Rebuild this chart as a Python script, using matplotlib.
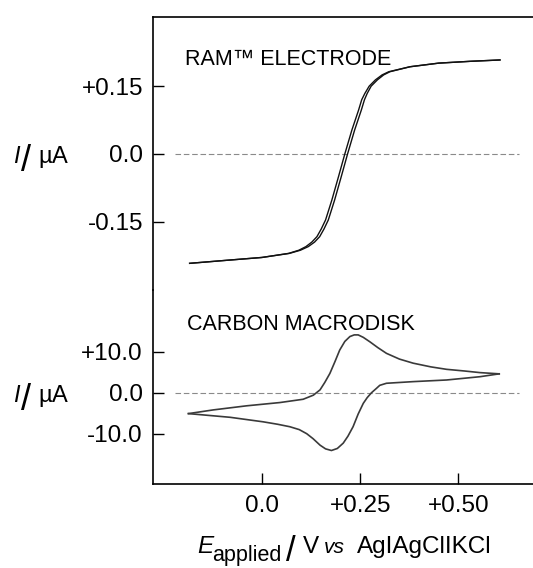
import matplotlib
matplotlib.use("Agg")
import matplotlib.pyplot as plt

plt.rcParams['font.family'] = ['Liberation Sans', 'DejaVu Sans']

# RAM electrode: steady-state sigmoid, forward and reverse sweep (V, uA)
ram_I = [-0.242, -0.236, -0.229, -0.220, -0.213, -0.205, -0.195, -0.183, -0.166, -0.146,
         -0.102, -0.050, 0.0, 0.053, 0.097, 0.120, 0.134, 0.150, 0.164, 0.175,
         0.182, 0.193, 0.201, 0.205, 0.208]
ram_E_fwd = [-0.184, -0.100, 0.000, 0.070, 0.098, 0.118, 0.134, 0.147, 0.158, 0.169,
             0.185, 0.202, 0.218, 0.236, 0.253, 0.261, 0.268, 0.278, 0.294, 0.310,
             0.326, 0.377, 0.450, 0.530, 0.606]
ram_E_rev = [-0.184, -0.100, 0.000, 0.068, 0.094, 0.112, 0.127, 0.140, 0.151, 0.162,
             0.178, 0.195, 0.211, 0.229, 0.246, 0.254, 0.262, 0.273, 0.289, 0.306,
             0.323, 0.377, 0.450, 0.530, 0.606]

# carbon macrodisk: cyclic voltammogram (V, uA)
cv_E_fwd = [-0.187, -0.124, -0.039, 0.046, 0.105, 0.131, 0.148, 0.160, 0.173, 0.186,
            0.198, 0.211, 0.224, 0.235, 0.245, 0.258, 0.275, 0.295, 0.317, 0.350,
            0.385, 0.430, 0.470, 0.515, 0.555, 0.604]
cv_I_fwd = [-5.1, -4.2, -3.2, -2.4, -1.6, -0.6, 0.7, 2.5, 4.7, 7.6,
            10.4, 12.5, 13.7, 14.1, 14.1, 13.5, 12.4, 11.0, 9.6, 8.2,
            7.2, 6.3, 5.7, 5.3, 4.9, 4.6]
cv_E_rev = [0.604, 0.555, 0.470, 0.385, 0.317, 0.300, 0.292, 0.279, 0.268, 0.258,
            0.245, 0.232, 0.219, 0.207, 0.192, 0.177, 0.162, 0.148, 0.130, 0.114,
            0.095, 0.071, 0.040, 0.003, -0.081, -0.140, -0.187]
cv_I_rev = [4.6, 3.9, 3.1, 2.7, 2.3, 1.8, 1.1, 0.0, -1.2, -2.6,
            -5.2, -8.3, -10.6, -12.3, -13.6, -14.1, -13.7, -12.8, -11.2, -10.0,
            -9.0, -8.3, -7.7, -7.1, -6.0, -5.5, -5.1]

x_ticks = [0.0, 0.25, 0.50]
x_labels = ['0.0', '+0.25', '+0.50']
top_ticks = [-0.15, 0.0, 0.15]
top_labels = ['-0.15', '0.0', '+0.15']
bot_ticks = [-10.0, 0.0, 10.0]
bot_labels = ['-10.0', '0.0', '+10.0']

W, H = 533, 568
fig = plt.figure(figsize=(W / 100, H / 100), dpi=100)


def fx(x):
    return x / W


def fy(y):
    return 1 - y / H


# axes positions in pixels
left, right = 152.7, 533.0
top, mid, bottom = 17.3, 290.0, 484.0

ax_top = fig.add_axes([fx(left), fy(mid), fx(right - left), (mid - top) / H])
ax_bot = fig.add_axes([fx(left), fy(bottom), fx(right - left), (bottom - mid) / H])

xlim = (-0.278, 0.690)
for ax in (ax_top, ax_bot):
    ax.set_xlim(*xlim)
    ax.patch.set_alpha(0)
    for s in ax.spines.values():
        s.set_linewidth(1.2)
    ax.spines['right'].set_visible(False)
    ax.tick_params(direction='in', length=7.7, width=1.0, labelsize=17.5, pad=7)
    ax.hlines(0, -0.22, 0.655, colors='#8a8a8a', linewidth=0.8, linestyles=(0, (5, 2.5)))

ax_top.spines['bottom'].set_visible(False)
ax_bot.spines['top'].set_visible(False)
ax_top.set_xticks([])
ax_bot.set_xticks(x_ticks)
ax_bot.set_xticklabels(x_labels)
ax_bot.tick_params(axis='x', pad=8)

ax_top.set_ylim(-0.301, 0.3024)
ax_top.set_yticks(top_ticks)
ax_top.set_yticklabels(top_labels)
ax_bot.set_ylim(-22.27, 25.05)
ax_bot.set_yticks(bot_ticks)
ax_bot.set_yticklabels(bot_labels)

ax_top.plot(ram_E_fwd, ram_I, color='#111111', linewidth=1.0)
ax_top.plot(ram_E_rev, ram_I, color='#111111', linewidth=1.0)
ax_bot.plot(cv_E_fwd, cv_I_fwd, color='#3a3a3a', linewidth=1.2)
ax_bot.plot(cv_E_rev, cv_I_rev, color='#3a3a3a', linewidth=1.2)

# panel titles
fig.text(fx(185), fy(65), 'RAM™ ELECTRODE', fontsize=15.5, va='baseline', ha='left')
fig.text(fx(187), fy(330), 'CARBON MACRODISK', fontsize=15.5, va='baseline', ha='left')

# y labels  I / uA
for base in (163.3, 401.7):
    fig.text(fx(13), fy(base), 'I', fontsize=17, style='italic', va='baseline')
    fig.text(fx(21), fy(base + 8), '/', fontsize=26, va='baseline')
    fig.text(fx(38), fy(base), 'µ', fontsize=17, va='baseline')
    fig.text(fx(52), fy(base), 'A', fontsize=17, va='baseline')

# x label  E_applied / V vs Ag|AgCl|KCl
fig.text(fx(197), fy(553), 'E', fontsize=17.5, style='italic', va='baseline')
fig.text(fx(212), fy(561), 'applied', fontsize=15.5, va='baseline')
fig.text(fx(286), fy(561), '/', fontsize=25, va='baseline')
fig.text(fx(303), fy(553), 'V', fontsize=17.5, va='baseline')
fig.text(fx(324), fy(553), 'vs', fontsize=15, style='italic', va='baseline')
fig.text(fx(357), fy(553), 'AgIAgClIKCl', fontsize=17.5, va='baseline')

fig.savefig('out.png', dpi=100)
